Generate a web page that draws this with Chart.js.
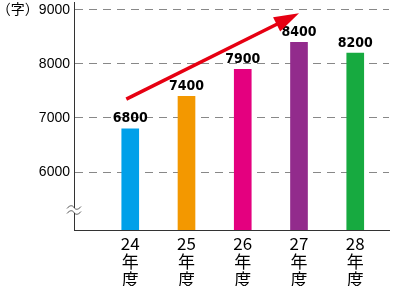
<!DOCTYPE html>
<html><head><meta charset="utf-8">
<script src="https://cdn.jsdelivr.net/npm/chart.js@4"></script>
<style>html,body{margin:0;padding:0;background:#fff}#wrap{width:393px;height:286px}</style>
</head><body><div id="wrap"><canvas id="c" width="393" height="286"></canvas></div>
<script>
const categories = [['24','年','度'], ['25','年','度'], ['26','年','度'], ['27','年','度'], ['28','年','度']];
const values = [6800, 7400, 7900, 8400, 8200];
const barColors = ['#00a0e9', '#f39800', '#e4007f', '#922b8c', '#17aa40'];
const yTicks = [6000, 7000, 8000, 9000];
const yUnit = '（字）';
const arrowFrom = {x: 0.93, y: 7350};
const arrowTo = {x: 4.0, y: 8940};

const labelPlugin = {
  id: 'labels',
  afterDatasetsDraw(chart) {
    const ctx = chart.ctx;
    const meta = chart.getDatasetMeta(0);
    ctx.save();
    ctx.fillStyle = '#000';
    ctx.font = 'bold 14px "DejaVu Sans Condensed", "Liberation Sans Narrow", sans-serif';
    ctx.textAlign = 'center';
    ctx.textBaseline = 'bottom';
    meta.data.forEach((el, i) => {
      ctx.fillText(String(values[i]), el.x, el.y - 3);
    });
    // arrow
    const xs = chart.scales.x, ys = chart.scales.y;
    const x1 = xs.getPixelForValue(arrowFrom.x), y1 = ys.getPixelForValue(arrowFrom.y);
    const x2 = xs.getPixelForValue(arrowTo.x), y2 = ys.getPixelForValue(arrowTo.y);
    const ang = Math.atan2(y2 - y1, x2 - x1);
    const hl = 25, hw = 8;
    const bx = x2 - hl * Math.cos(ang), by = y2 - hl * Math.sin(ang);
    ctx.strokeStyle = '#e60012';
    ctx.fillStyle = '#e60012';
    ctx.lineWidth = 3.5;
    ctx.beginPath();
    ctx.moveTo(x1, y1);
    ctx.lineTo(bx + 3*Math.cos(ang), by + 3*Math.sin(ang));
    ctx.stroke();
    ctx.beginPath();
    ctx.moveTo(x2, y2);
    ctx.lineTo(bx + hw * Math.sin(ang), by - hw * Math.cos(ang));
    ctx.lineTo(bx - hw * Math.sin(ang), by + hw * Math.cos(ang));
    ctx.closePath();
    ctx.fill();
    // axis break symbol
    const ax = chart.chartArea.left;
    const byc = chart.chartArea.bottom - 20;
    ctx.fillStyle = '#fff';
    ctx.fillRect(ax - 2, byc - 2, 4, 5);
    ctx.strokeStyle = '#333';
    ctx.lineWidth = 0.8;
    [-2.5, 2.5].forEach(off => {
      ctx.beginPath();
      const yy = byc + off;
      ctx.moveTo(ax - 7, yy + 1);
      ctx.bezierCurveTo(ax - 4, yy - 3, ax - 1, yy - 2, ax, yy);
      ctx.bezierCurveTo(ax + 1, yy + 2, ax + 4, yy + 3, ax + 7, yy - 1);
      ctx.stroke();
    });
    ctx.restore();
  }
};

new Chart(document.getElementById('c'), {
  type: 'bar',
  data: {
    datasets: [{
      data: values.map((v, i) => ({x: i + 1, y: v})),
      backgroundColor: barColors,
      barThickness: 17
    }]
  },
  options: {
    responsive: false,
    animation: false,
    layout: {padding: {top: 2, right: 4, left: 0, bottom: 0}},
    plugins: {legend: {display: false}, tooltip: {enabled: false}},
    scales: {
      x: {
        type: 'linear',
        offset: false,
        min: 0,
        max: 5.6,
        afterBuildTicks(s) { s.ticks = categories.map((c, i) => ({value: i + 1})); },
        afterFit(s) { s.height = 56; s.paddingLeft = 0; s.paddingRight = 0; },
        grid: {display: false},
        border: {display: true, color: '#333', width: 1},
        ticks: {
          autoSkip: false,
          maxRotation: 0,
          padding: -4,
          color: '#000',
          font: {family: '"Noto Sans CJK JP", sans-serif', size: 17, lineHeight: 1.08},
          callback: (v) => categories[v - 1] || ''
        }
      },
      y: {
        min: 4926,
        max: 9148,
        afterBuildTicks(s) { s.ticks = yTicks.map(v => ({value: v})); },
        afterFit(s) { s.width = 74; s.paddingTop = 0; s.paddingBottom = 0; },
        grid: {color: '#888', lineWidth: 1, drawTicks: false},
        border: {display: true, color: '#333', width: 1, dash: [8, 6]},
        ticks: {
          padding: 4,
          color: '#000',
          font: {family: '"Liberation Sans", "Noto Sans CJK JP", sans-serif', size: 14},
          callback: (v) => (v === 9000 ? yUnit : '') + v
        }
      }
    }
  },
  plugins: [labelPlugin]
});
</script></body></html>
